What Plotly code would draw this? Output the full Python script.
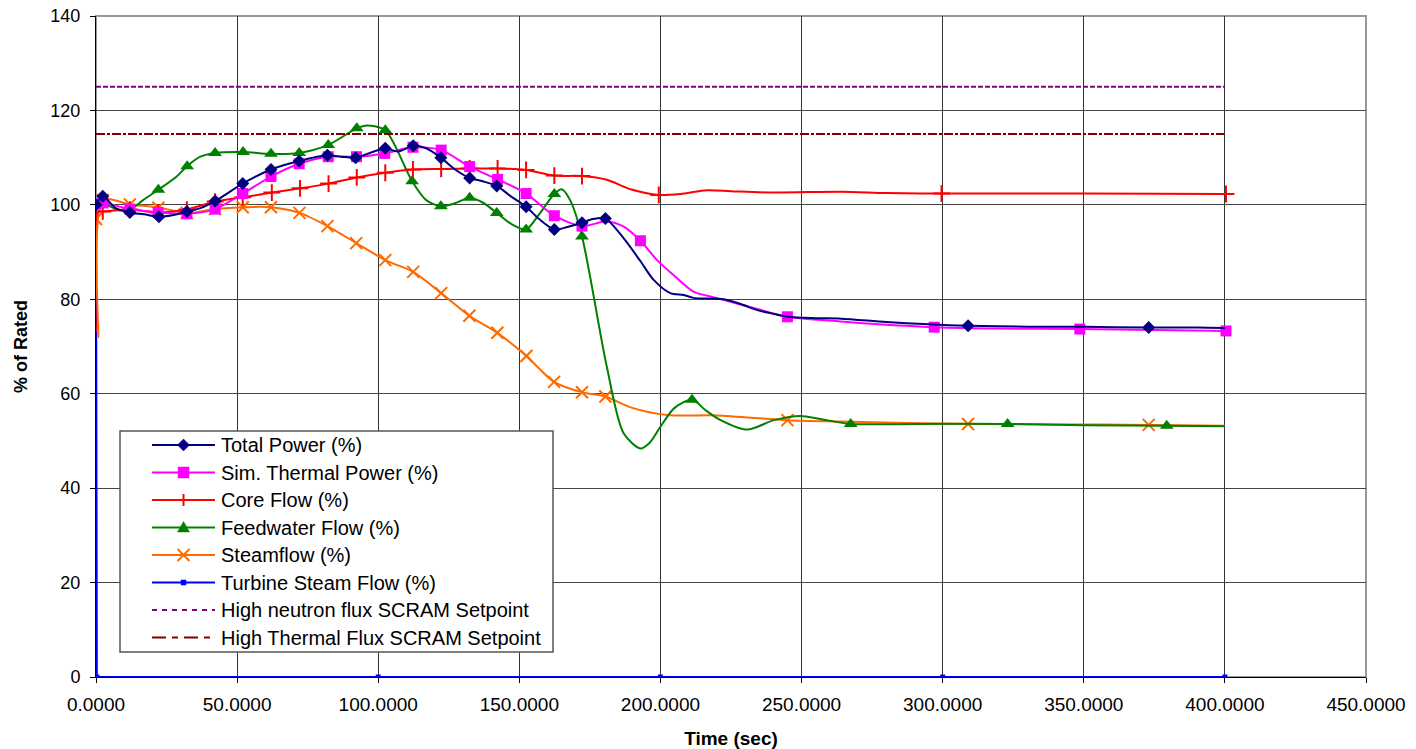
import plotly.graph_objects as go

# ---------------- data ----------------
tp_t = [0, 2.4, 7, 12, 17, 22.3, 27, 32.2, 37, 42.2, 52, 62, 72, 82, 87, 92, 98, 102.5, 107, 112.4, 117, 122.2,
        127, 132.4, 137, 142, 147, 152.4, 157, 162.4, 167, 172.2, 176, 180.5, 187, 193, 197.6, 203.5, 208.3,
        211.7, 222.3, 228.4, 234.3, 240.2, 245, 255, 264, 280, 295, 309, 330, 350, 373, 390, 400]
tp_v = [100, 101.8, 99.3, 98.4, 98.0, 97.5, 97.8, 98.6, 99.3, 100.8, 104.5, 107.5, 109.3, 110.5, 110.2, 110.0, 111.2, 112.0, 111.3, 112.5, 112.0, 110.0,
        107.6, 105.7, 105.0, 104.0, 101.8, 99.6, 97.0, 94.8, 95.3, 96.2, 97.0, 97.1, 92.9, 88.0, 84.1, 81.3, 80.9,
        80.3, 80.0, 79.0, 77.7, 76.9, 76.3, 76.0, 75.9, 75.2, 74.7, 74.4, 74.2, 74.2, 74.0, 74.0, 73.9]
tp_mk = [0, 2.4, 12, 22.3, 32.2, 42.2, 52, 62, 72, 82, 92, 102.5, 112.4, 122.2, 132.4, 142, 152.4, 162.4, 172.2, 180.5, 309, 373]

st_t = [0, 2.5, 12, 22, 32.2, 42.2, 52, 62, 72, 82.3, 92.3, 102.3, 112.3, 122.3, 132.4, 142.3, 152.4, 162.4,
        172.2, 181, 187, 192.9, 198.8, 204.7, 211.7, 219, 234, 245, 263.8, 280, 297, 320, 348.6, 375, 400.4]
st_v = [100.2, 100.4, 99.1, 98.4, 98.1, 99.1, 102.4, 106.0, 108.7, 110.2, 110.2, 110.9, 112.2, 111.6, 108.1, 105.4, 102.4, 97.7,
        95.5, 96.5, 95.4, 92.4, 88.3, 85.1, 81.6, 80.4, 78.0, 76.3, 75.3, 74.6, 74.1, 73.8, 73.7, 73.5, 73.3]
st_mk = [0, 2.5, 12, 22, 32.2, 42.2, 52, 62, 72, 82.3, 92.3, 102.3, 112.3, 122.3, 132.4, 142.3, 152.4, 162.4,
         172.2, 192.9, 245, 297, 348.6, 400.4]

cf_t = [0, 0.7, 2.4, 12, 22, 32.2, 42.2, 52, 62.3, 72.3, 82.4, 92.4, 102.5, 112.3, 122.3, 132.4, 142.3, 152.4,
        162.4, 172.2, 181, 189.4, 199.4, 207, 216.5, 225, 240, 264, 280, 299.6, 350, 400.4]
cf_v = [73, 98.5, 98.6, 99.0, 98.4, 99.0, 100.7, 101.6, 102.6, 103.5, 104.5, 105.8, 106.8, 107.5, 107.6, 107.7, 107.7, 107.4,
        106.2, 106.1, 105.3, 103.3, 102.1, 102.3, 103.1, 102.9, 102.6, 102.8, 102.5, 102.4, 102.4, 102.3]
cf_mk = [2.4, 12, 22, 32.2, 42.2, 52, 62.3, 72.3, 82.4, 92.4, 102.5, 112.3, 122.3, 132.4, 142.3, 152.4,
         162.4, 172.2, 199.4, 299.6, 400.4]

fw_t = [0, 2.4, 8.5, 12, 16.7, 22.1, 28.6, 32.3, 37, 42.2, 52.1, 62, 72, 82.3, 92.4, 96, 102.5, 112, 117, 122.2,
        127, 132.4, 137, 142, 147, 152.4, 157, 162.4, 165, 168, 172.2, 181, 186.9, 192.9, 196, 200, 205,
        211.2, 216, 221.3, 230.7, 240.2, 249.6, 257, 267.4, 290, 323, 350, 379.4, 400]
fw_v = [99.8, 100.3, 98.8, 99.0, 101.0, 103.2, 106.0, 108.2, 110.2, 111.0, 111.2, 110.8, 111.0, 112.7, 116.2, 116.8, 115.8, 105.0, 101.0, 99.7,
        100.3, 101.5, 100.5, 98.3, 96.0, 94.8, 98.0, 102.3, 103.3, 101.0, 93.3, 65.7, 51.7, 48.4, 49.5, 53.0, 57.0,
        58.7, 56.5, 54.4, 52.4, 54.4, 55.3, 54.6, 53.6, 53.6, 53.6, 53.3, 53.2, 53.1]
fw_mk = [0, 2.4, 12, 22.1, 32.3, 42.2, 52.1, 62, 72, 82.3, 92.4, 102.5, 112, 122.2, 132.4, 142, 152.4,
         162.4, 172.2, 211.2, 267.4, 323, 379.4]

sf_t = [0, 0.8, 2.4, 12, 22.1, 32.2, 42.2, 52, 62, 72.1, 82, 92.2, 102.5, 112.4, 122.3, 132.3, 142.2, 152.5,
        162.3, 172.2, 180.5, 190, 202.4, 220, 245, 263.8, 309, 340, 373, 400]
sf_v = [97.0, 72.0, 101.0, 100.1, 99.4, 98.3, 99.1, 99.5, 99.5, 98.3, 95.5, 91.9, 88.3, 85.8, 81.3, 76.5, 72.9, 68.0,
        62.5, 60.3, 59.4, 57.0, 55.5, 55.4, 54.4, 54.1, 53.6, 53.5, 53.4, 53.2]
sf_mk = [0, 2.4, 12, 22.1, 32.2, 42.2, 52, 62, 72.1, 82, 92.2, 102.5, 112.4, 122.3, 132.3, 142.2, 152.5,
         162.3, 172.2, 180.5, 245, 309, 373]

ts_t = [0, 0.3, 100, 200, 300, 400]
ts_v = [100, 0, 0, 0, 0, 0]
ts_mk = [0.3, 100, 200, 300, 400]

sp_t = [0, 400]
neutron_v = [125, 125]
thermal_v = [115, 115]

x_ticks = [0, 50, 100, 150, 200, 250, 300, 350, 400, 450]
y_ticks = [0, 20, 40, 60, 80, 100, 120, 140]

legend_names = ["Total Power (%)", "Sim. Thermal Power (%)", "Core Flow (%)", "Feedwater Flow (%)",
                "Steamflow (%)", "Turbine Steam Flow (%)", "High neutron flux SCRAM Setpoint",
                "High Thermal Flux SCRAM Setpoint"]

# ---------------- styles ----------------
W, H = 1416, 749
ML, MR, MT, MB = 96, 50, 16, 72
PW, PH = W - ML - MR, H - MT - MB

NEUTRON_DASH = "5px,2px"
THERMAL_DASH = "9px,2px,3px,2px"

styles = [
    dict(color="#000080", symbol="diamond", size=10),
    dict(color="#FF00FF", symbol="square", size=11),
    dict(color="#FF0000", symbol="cross-thin", size=12),
    dict(color="#008000", symbol="triangle-up", size=12),
    dict(color="#FF6A00", symbol="x-thin", size=12),
    dict(color="#0000FF", symbol="square", size=5),
]
series = [(tp_t, tp_v, tp_mk), (st_t, st_v, st_mk), (cf_t, cf_v, cf_mk),
          (fw_t, fw_v, fw_mk), (sf_t, sf_v, sf_mk), (ts_t, ts_v, ts_mk)]

fig = go.Figure()

for i in reversed(range(len(series))):
    t, v, mk = series[i]
    st = styles[i]
    shape = "linear" if i == 5 else "spline"
    fig.add_trace(go.Scatter(x=t, y=v, mode="lines", line=dict(color=st["color"], width=2, shape=shape, smoothing=0.8),
                             name=legend_names[i], showlegend=False, hoverinfo="skip"))
    lookup = dict(zip(t, v))
    mline = dict(width=2, color=st["color"]) if "thin" in st["symbol"] else dict(width=0)
    fig.add_trace(go.Scatter(x=mk, y=[lookup[m] for m in mk], mode="markers", name=legend_names[i],
                             marker=dict(color=st["color"], symbol=st["symbol"], size=st["size"], line=mline),
                             showlegend=False))

fig.add_trace(go.Scatter(x=sp_t, y=neutron_v, mode="lines", name=legend_names[6],
                         line=dict(color="#800080", width=2, dash=NEUTRON_DASH), showlegend=False))
fig.add_trace(go.Scatter(x=sp_t, y=thermal_v, mode="lines", name=legend_names[7],
                         line=dict(color="#800000", width=2, dash=THERMAL_DASH), showlegend=False))

# ---------------- hand-drawn legend box (pixel layout -> paper) ----------------
def px(xp):
    return (xp - ML) / PW

def py(yp):
    return (H - MB - yp) / PH

def marker_path(cx, cy, symbol, s):
    h = s / 2.0
    if symbol == "diamond":
        pts = [(cx, cy - h - 1), (cx + h + 1, cy), (cx, cy + h + 1), (cx - h - 1, cy)]
    elif symbol == "square":
        pts = [(cx - h, cy - h), (cx + h, cy - h), (cx + h, cy + h), (cx - h, cy + h)]
    elif symbol == "triangle-up":
        pts = [(cx, cy - h), (cx + h, cy + h * 0.75), (cx - h, cy + h * 0.75)]
    elif symbol == "cross-thin":
        return (f"M{px(cx - h)},{py(cy)} L{px(cx + h)},{py(cy)} "
                f"M{px(cx)},{py(cy - h)} L{px(cx)},{py(cy + h)}"), False
    else:  # x-thin
        return (f"M{px(cx - h)},{py(cy - h)} L{px(cx + h)},{py(cy + h)} "
                f"M{px(cx - h)},{py(cy + h)} L{px(cx + h)},{py(cy - h)}"), False
    return "M" + " L".join(f"{px(a)},{py(b)}" for a, b in pts) + " Z", True

shapes = []
annotations = []
BOX = (120, 431, 553, 652)
shapes.append(dict(type="rect", xref="paper", yref="paper", layer="above",
                   x0=px(BOX[0]), x1=px(BOX[2]), y0=py(BOX[3]), y1=py(BOX[1]),
                   line=dict(color="#555", width=1.5), fillcolor="white"))
ROW0, ROWH = 445, 27.5
LX0, LX1, TX = 152, 215, 219
for k, name in enumerate(legend_names):
    cy = ROW0 + k * ROWH
    if k < 6:
        col = styles[k]["color"]
        shapes.append(dict(type="line", xref="paper", yref="paper", layer="above",
                           x0=px(LX0), x1=px(LX1), y0=py(cy), y1=py(cy), line=dict(color=col, width=2)))
        path, filled = marker_path((LX0 + LX1) / 2, cy, styles[k]["symbol"], styles[k]["size"])
        if filled:
            shapes.append(dict(type="path", xref="paper", yref="paper", layer="above", path=path,
                               fillcolor=col, line=dict(color=col, width=0.5)))
        else:
            shapes.append(dict(type="path", xref="paper", yref="paper", layer="above", path=path,
                               line=dict(color=col, width=2)))
    else:
        col = "#800080" if k == 6 else "#800000"
        dash = "5px,5px" if k == 6 else "14px,6px,6px,6px"
        shapes.append(dict(type="line", xref="paper", yref="paper", layer="above",
                           x0=px(LX0), x1=px(LX1), y0=py(cy), y1=py(cy), line=dict(color=col, width=2, dash=dash)))
    annotations.append(dict(text=name, xref="paper", yref="paper", x=px(TX), y=py(cy),
                            xanchor="left", yanchor="middle", showarrow=False,
                            font=dict(size=20, color="black")))

# plot-area border (gray)
shapes.append(dict(type="rect", xref="paper", yref="paper", x0=0, y0=0, x1=1, y1=1,
                   line=dict(color="#999", width=2), layer="below"))

fig.update_layout(
    width=W, height=H,
    margin=dict(l=ML, r=MR, t=MT, b=MB, autoexpand=False),
    paper_bgcolor="white", plot_bgcolor="white",
    font=dict(family="Arial, Liberation Sans, sans-serif", size=16, color="black"),
    showlegend=False,
    shapes=shapes, annotations=annotations,
)
fig.update_xaxes(range=[0, 450], tickvals=x_ticks, tickformat=".4f", automargin=False,
                 showgrid=True, gridcolor="#333", gridwidth=1,
                 ticks="outside", ticklen=5, tickcolor="black", ticklabelstandoff=5,
                 showline=True, linecolor="black", linewidth=1,
                 zeroline=False, tickfont=dict(size=19),
                 title=dict(text="<b>Time (sec)</b>", font=dict(size=19), standoff=18))
fig.update_yaxes(range=[0, 140], tickvals=y_ticks, automargin=False,
                 showgrid=True, gridcolor="#444", gridwidth=1,
                 ticks="outside", ticklen=5, tickcolor="black", ticklabelstandoff=6,
                 showline=True, linecolor="black", linewidth=1,
                 zeroline=False, tickfont=dict(size=18),
                 title=dict(text="<b>% of Rated</b>", font=dict(size=18), standoff=18))

fig.write_html("out.html")
